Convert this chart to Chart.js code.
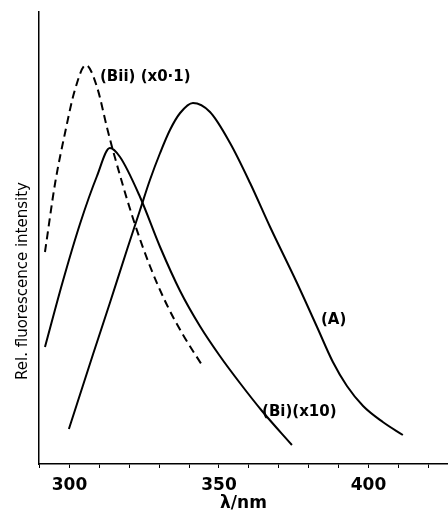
<!DOCTYPE html>
<html>
<head>
<meta charset="utf-8">
<script src="https://cdn.jsdelivr.net/npm/chart.js@4"></script>
<style>
  body { margin: 0; background: #fff; }
</style>
</head>
<body>
<canvas id="chart" width="448" height="514"></canvas>
<script>
// curve (A)
var waveA = [299.8, 307.9, 313.5, 319.2, 323.6, 326.9, 330.3, 333.6, 337, 341.3, 347, 353.7, 360.4, 367.1, 376.1, 382.8, 388.1, 392.8, 398.2, 404.8, 411.5];
var intA = [35, 110, 161, 214, 254, 284, 311, 334, 351, 361, 352, 321, 281, 237, 181, 137, 102, 78, 58, 42, 29];

// curve (Bi)(x10)
var waveBi = [291.8, 297.8, 303.5, 309.2, 313.5, 316.9, 323.6, 330.3, 337, 343.6, 350.3, 357, 364.4, 374.4];
var intBi = [117, 183, 240, 288, 316, 307, 267, 217, 173, 138, 108, 81, 53, 19];

// curve (Bii)(x0.1), dashed
var waveBii = [291.8, 295.2, 298.5, 301.8, 305.5, 309.2, 312.5, 314.5, 321.2, 326.9, 332.6, 338, 344.3];
var intBii = [212, 281, 331, 374, 399, 377, 337, 314, 246, 198, 159, 129, 99];

// curve labels, placed in data units
var curveLabels = ["(Bii) (x0\u00b71)", "(A)", "(Bi)(x10)"];
var labelWave = [310.2, 384.1, 364.4];
var labelInt = [387, 144, 52];

function toPoints(xs, ys) {
  var pts = [];
  for (var i = 0; i < xs.length; i++) {
    pts.push({ x: xs[i], y: ys[i] });
  }
  return pts;
}

function curve(xs, ys, dash) {
  return {
    data: toPoints(xs, ys),
    borderColor: "#000",
    borderWidth: 2,
    borderDash: dash,
    pointRadius: 0,
    cubicInterpolationMode: "monotone"
  };
}

// draws the curve labels and the y axis title
var textPlugin = {
  id: "texts",
  afterDraw: function (chart) {
    var ctx = chart.ctx;
    var xs = chart.scales.x;
    var ys = chart.scales.y;
    ctx.save();
    ctx.fillStyle = "#000";
    ctx.font = "bold 15px 'DejaVu Sans'";
    ctx.textBaseline = "middle";
    ctx.textAlign = "left";
    for (var i = 0; i < curveLabels.length; i++) {
      ctx.fillText(curveLabels[i], xs.getPixelForValue(labelWave[i]), ys.getPixelForValue(labelInt[i]));
    }
    ctx.translate(23, 281);
    ctx.rotate(-Math.PI / 2);
    ctx.textAlign = "center";
    ctx.font = "15px 'DejaVu Sans'";
    ctx.fillText("Rel. fluorescence intensity", 0, 0);
    ctx.restore();
  }
};

var ctx = document.getElementById("chart").getContext("2d");
var chart = new Chart(ctx, {
  type: "line",
  data: {
    datasets: [
      curve(waveA, intA, []),
      curve(waveBi, intBi, []),
      curve(waveBii, intBii, [8, 5])
    ]
  },
  options: {
    responsive: false,
    animation: false,
    layout: { padding: { top: 12, right: 0, left: 0, bottom: 0 } },
    plugins: {
      legend: { display: false },
      tooltip: { enabled: false }
    },
    scales: {
      x: {
        type: "linear",
        min: 289.8,
        max: 426.6,
        border: { display: true, color: "#000", width: 1.5 },
        grid: { drawOnChartArea: false, drawTicks: true, tickLength: 4, color: "#000" },
        ticks: {
          stepSize: 10,
          includeBounds: false,
          autoSkip: false,
          maxRotation: 0,
          color: "#000",
          padding: 7,
          font: { family: "'DejaVu Sans'", size: 17, weight: "bold" },
          callback: function (v) {
            return v % 50 === 0 ? String(v) : "";
          }
        },
        title: {
          display: true,
          text: "\u03bb/nm",
          color: "#000",
          padding: { top: 3, bottom: 0 },
          font: { family: "'DejaVu Sans'", size: 17, weight: "bold" }
        },
        afterFit: function (scale) {
          scale.height = 50;
        }
      },
      y: {
        min: 0,
        max: 452,
        border: { display: true, color: "#000", width: 1.5 },
        grid: { display: false },
        ticks: { display: false },
        afterFit: function (scale) {
          scale.width = 39;
        }
      }
    }
  },
  plugins: [textPlugin]
});
</script>
</body>
</html>
